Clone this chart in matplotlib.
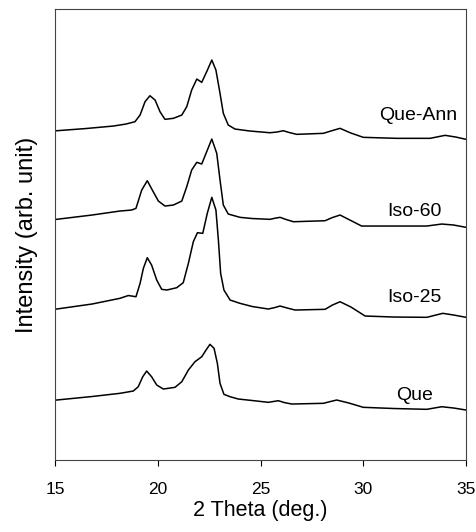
import matplotlib.pyplot as plt

plt.rcParams['font.family'] = ['Liberation Sans', 'DejaVu Sans']

# 2 theta (deg) and intensity (arb. units, curves offset vertically)
x_queann = [15.08, 16.5, 17.84, 18.45, 18.89, 19.14, 19.38, 19.62, 19.87, 20.11, 20.35, 20.76, 21.17, 21.41,
            21.65, 21.90, 22.14, 22.38, 22.63, 22.83, 23.03, 23.19, 23.43, 23.76, 24.49, 25.46, 25.80,
            26.11, 26.40, 26.76, 28.06, 28.50, 28.87, 29.36, 30.0, 31.63, 33.25, 33.98, 34.50, 35.0]
y_queann = [329.3, 331.5, 334.0, 336.0, 338.3, 345.0, 358.3, 364.3, 360.0, 348.3, 340.7, 341.7, 345.0, 353.3,
            370.0, 381.0, 377.7, 388.3, 400.0, 390.0, 366.7, 346.7, 335.0, 331.0, 329.0, 327.3, 328.0,
            329.3, 327.5, 325.7, 326.7, 329.5, 331.7, 327.3, 322.7, 321.7, 321.7, 324.7, 323.0, 320.7]

x_iso60 = [15.08, 16.8, 18.16, 18.73, 18.94, 19.22, 19.49, 19.78, 20.03, 20.35, 20.76, 21.17, 21.41, 21.65,
           21.90, 22.14, 22.38, 22.63, 22.87, 23.03, 23.19, 23.43, 24.0, 24.6, 25.46, 25.70, 25.95, 26.25,
           26.60, 28.14, 28.50, 28.87, 29.30, 29.92, 31.5, 33.09, 33.82, 34.4, 35.0]
y_iso60 = [240.7, 245.0, 249.0, 250.0, 251.7, 270.0, 279.3, 268.3, 259.0, 254.0, 255.0, 259.0, 273.3, 290.0,
           297.7, 296.0, 308.3, 321.0, 306.7, 280.0, 255.0, 246.0, 242.7, 241.5, 240.7, 241.8, 242.7, 240.5,
           238.3, 239.3, 242.5, 245.0, 240.5, 234.0, 234.0, 234.0, 236.0, 235.0, 232.7]

x_iso25 = [15.08, 16.8, 18.16, 18.57, 18.73, 18.94, 19.14, 19.30, 19.49, 19.70, 19.95, 20.19, 20.44, 20.92,
           21.24, 21.49, 21.73, 21.93, 22.19, 22.41, 22.63, 22.83, 22.95, 23.06, 23.22, 23.52, 24.0, 24.6,
           25.38, 25.70, 25.95, 26.30, 26.68, 28.14, 28.50, 28.87, 29.40, 30.09, 31.5, 33.09, 33.87, 34.4, 35.0]
y_iso25 = [151.0, 156.0, 161.7, 164.5, 164.0, 163.3, 176.7, 191.7, 202.3, 195.0, 180.0, 170.7, 170.0, 172.3,
           177.3, 196.7, 218.3, 227.3, 226.7, 246.7, 262.7, 250.0, 220.0, 186.7, 170.0, 160.0, 156.7, 153.5,
           151.0, 152.5, 154.0, 152.0, 150.0, 150.7, 155.0, 158.3, 153.0, 144.0, 143.0, 142.7, 146.7, 145.0, 142.7]

x_que = [15.08, 16.8, 18.16, 18.81, 19.05, 19.27, 19.46, 19.70, 19.95, 20.27, 20.84, 21.17, 21.49, 21.81,
         22.14, 22.35, 22.54, 22.74, 22.90, 23.03, 23.22, 23.52, 23.92, 24.6, 25.38, 25.62, 25.87, 26.15,
         26.52, 28.06, 28.40, 28.71, 29.30, 30.0, 31.5, 33.09, 33.82, 34.4, 35.0]
y_que = [60.0, 63.5, 66.7, 69.0, 73.3, 83.3, 89.0, 83.3, 75.0, 71.0, 72.7, 78.3, 90.0, 98.3,
         103.3, 110.0, 115.7, 111.7, 96.7, 76.7, 65.7, 63.3, 61.0, 59.5, 57.7, 58.5, 59.3, 57.5,
         56.0, 56.7, 58.5, 60.0, 57.0, 52.7, 51.5, 50.7, 53.3, 52.0, 50.0]

labels = ['Que-Ann', 'Iso-60', 'Iso-25', 'Que']
label_x = [34.55, 33.83, 33.83, 33.4]
label_y = [345, 249, 163, 65]

fig = plt.figure(figsize=(4.77, 5.32), dpi=100)
ax = fig.add_axes([0.1153, 0.1353, 0.8617, 0.8477])

for xs, ys in [(x_queann, y_queann), (x_iso60, y_iso60), (x_iso25, y_iso25), (x_que, y_que)]:
    ax.plot(xs, ys, color='black', linewidth=1.1)

for lab, lx, ly in zip(labels, label_x, label_y):
    ax.text(lx, ly, lab, ha='right', va='center', fontsize=14)

ax.set_xlim(15, 35)
ax.set_ylim(0, 451)
ax.set_xticks([15, 20, 25, 30, 35])
ax.set_yticks([])
ax.tick_params(axis='x', direction='out', length=4, labelsize=12.5, pad=12)
ax.set_xlabel('2 Theta (deg.)', fontsize=15.5, labelpad=2)
ax.set_ylabel('Intensity (arb. unit)', fontsize=17, labelpad=12)
for s in ax.spines.values():
    s.set_linewidth(0.8)
    s.set_color('#444444')

plt.savefig('out.png', dpi=100)
